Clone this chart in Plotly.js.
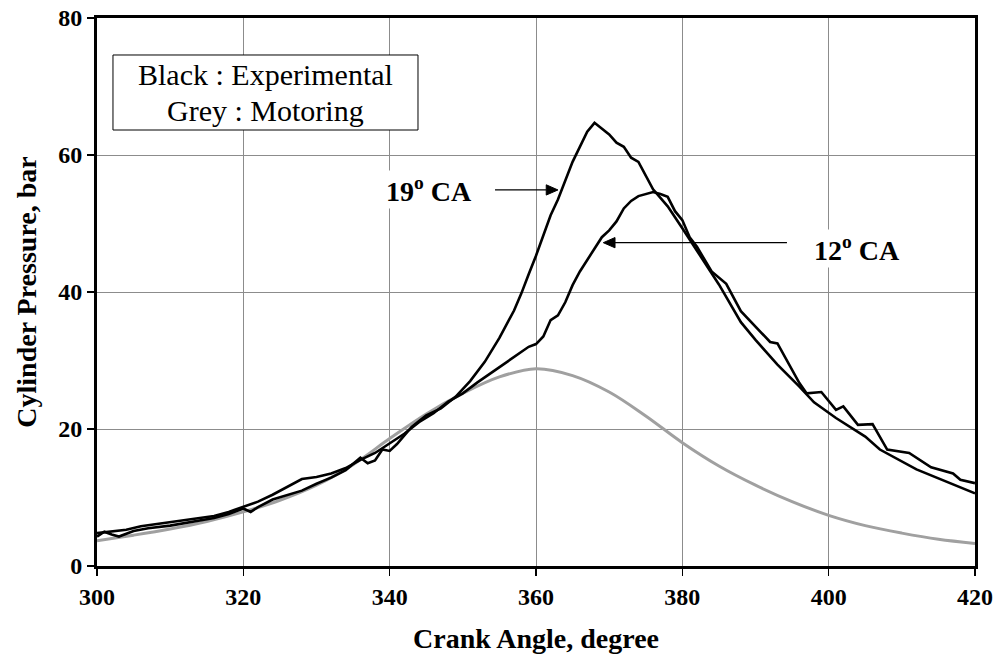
<!DOCTYPE html>
<html>
<head>
<meta charset="utf-8">
<script src="https://cdn.plot.ly/plotly-3.0.1.min.js"></script>
<style>html,body{margin:0;padding:0;background:#fff;}</style>
</head>
<body>
<div id="chart" style="width:997px;height:660px;"></div>
<script>
// Motoring (grey)
const motoringAngle = [300,305,310,315,320,325,330,335,340,345,350,355,360,365,370,375,380,385,390,395,400,405,410,415,420];
const motoringPressure = [3.7,4.5,5.4,6.5,7.9,9.6,11.8,14.8,18.6,22.2,25.2,27.6,28.8,27.8,25.4,21.9,18.0,14.6,11.8,9.4,7.4,5.9,4.8,3.9,3.3];

// Experimental, 19 deg CA
const ca19Angle = [300,301,302,303,305,307,310,313,316,318,320,321,322,324,326,328,330,332,334,336,337,338,339,340,341,343,345,347,349,351,353,355,357,358,359,360,362,363,365,367,368,369,370,371,372,373,374,376,378,380,382,385,388,390,393,396,398,401,405,407,412,416,420];
const ca19Pressure = [4.3,5.0,4.6,4.3,5.1,5.5,5.9,6.4,7.0,7.6,8.4,7.9,8.6,9.7,10.4,11.0,12.0,12.9,14.0,15.8,15.0,15.4,17.0,16.8,17.8,20.3,22.0,23.0,24.7,27.0,29.8,33.3,37.3,39.8,42.6,45.3,51.2,53.5,59.0,63.4,64.7,63.9,63.0,61.8,61.2,59.6,59.0,55.0,52.5,49.3,46.0,41.1,35.6,33.0,29.4,26.2,23.9,21.6,18.9,17.0,14.1,12.4,10.6];

// Experimental, 12 deg CA
const ca12Angle = [300,302,304,306,308,310,312,314,316,318,320,322,324,326,328,330,332,334,336,338,340,342,344,346,348,350,352,354,356,358,359,360,361,362,363,364,365,366,367,368,369,370,371,372,373,374,376,377,378,379,380,381,382,384,386,388,390,392,393,394,396,397,399,401,402,404,406,408,411,414,417,418,420];
const ca12Pressure = [4.8,5.0,5.3,5.8,6.1,6.4,6.7,7.0,7.3,7.9,8.7,9.4,10.4,11.6,12.7,13.0,13.5,14.3,15.5,16.5,17.9,19.3,21.0,22.3,24.0,25.2,26.8,28.3,29.8,31.3,32.0,32.4,33.5,35.9,36.6,38.5,41.0,43.0,44.7,46.3,48.0,49.0,50.3,52.2,53.3,54.0,54.6,54.3,53.9,51.8,50.5,48.0,46.6,43.0,41.2,37.2,34.9,32.7,32.5,30.6,26.7,25.2,25.4,22.8,23.3,20.6,20.7,17.0,16.5,14.4,13.5,12.6,12.1];

const xTicks = [300,320,340,360,380,400,420];
const yTicks = [0,20,40,60,80];

const serif = 'Liberation Serif, Times New Roman, serif';

const traces = [
  {x: motoringAngle, y: motoringPressure, type: 'scatter', mode: 'lines',
   line: {color: '#a0a0a0', width: 3, shape: 'spline'}, hoverinfo: 'skip'},
  {x: ca12Angle, y: ca12Pressure, type: 'scatter', mode: 'lines',
   line: {color: '#000000', width: 2.6}, hoverinfo: 'skip'},
  {x: ca19Angle, y: ca19Pressure, type: 'scatter', mode: 'lines',
   line: {color: '#000000', width: 2.6}, hoverinfo: 'skip'}
];

const axisCommon = {
  showgrid: true, gridcolor: '#8c8c8c', gridwidth: 1,
  showline: true, linecolor: '#000', linewidth: 3, mirror: true,
  ticks: 'outside', ticklen: 7, tickwidth: 1.5, tickcolor: '#000',
  zeroline: false,
  tickfont: {family: serif, size: 24, color: '#000', weight: 'bold'}
};

// arrow helper (label pointer arrows, in axis units)
function arrowShapes(tail, tip, yv) {
  const dir = tip > tail ? 1 : -1;
  const headLen = 1.6, headHalf = 0.75;
  const base = tip - dir * headLen;
  return [
    {type: 'line', xref: 'x', yref: 'y', x0: tail, x1: base, y0: yv, y1: yv,
     line: {color: '#000', width: 1.3}},
    {type: 'path', xref: 'x', yref: 'y',
     path: `M ${tip} ${yv} L ${base} ${yv + headHalf} L ${base} ${yv - headHalf} Z`,
     fillcolor: '#000', line: {color: '#000', width: 1}}
  ];
}

const layout = {
  width: 997, height: 660,
  margin: {l: 97, r: 22, t: 18, b: 94},
  paper_bgcolor: '#fff', plot_bgcolor: '#fff',
  showlegend: false,
  xaxis: Object.assign({}, axisCommon, {
    range: [300, 420], tickvals: xTicks, ticktext: xTicks.map(String),
    title: {text: 'Crank Angle, degree', standoff: 20,
            font: {family: serif, size: 28, color: '#000', weight: 'bold'}}
  }),
  yaxis: Object.assign({}, axisCommon, {
    range: [0, 80], tickvals: yTicks, ticktext: yTicks.map(String),
    title: {text: 'Cylinder Pressure, bar', standoff: 14,
            font: {family: serif, size: 28, color: '#000', weight: 'bold'}}
  }),
  shapes: [
    {type: 'rect', xref: 'paper', yref: 'paper', x0: 0.0182, x1: 0.3656, y0: 0.7956, y1: 0.9325,
     line: {color: '#000', width: 1}, fillcolor: '#fff', layer: 'above'}
  ].concat(arrowShapes(354.4, 363.0, 54.9), arrowShapes(394.3, 369.2, 47.2)),
  annotations: [
    {xref: 'paper', yref: 'paper', x: 0.192, y: 0.896, xanchor: 'center', yanchor: 'middle',
     text: 'Black : Experimental', showarrow: false,
     font: {family: serif, size: 30, color: '#000'}},
    {xref: 'paper', yref: 'paper', x: 0.192, y: 0.832, xanchor: 'center', yanchor: 'middle',
     text: 'Grey : Motoring', showarrow: false,
     font: {family: serif, size: 30, color: '#000'}},
    {x: 345.4, y: 54.9, xref: 'x', yref: 'y', showarrow: false,
     text: '19<sup>o</sup> CA', bgcolor: '#fff',
     font: {family: serif, size: 28, color: '#000', weight: 'bold'}},
    {x: 403.9, y: 46.4, xref: 'x', yref: 'y', showarrow: false,
     text: '12<sup>o</sup> CA', bgcolor: '#fff',
     font: {family: serif, size: 28, color: '#000', weight: 'bold'}}
  ]
};

Plotly.newPlot('chart', traces, layout, {staticPlot: true, displayModeBar: false});
</script>
</body>
</html>
